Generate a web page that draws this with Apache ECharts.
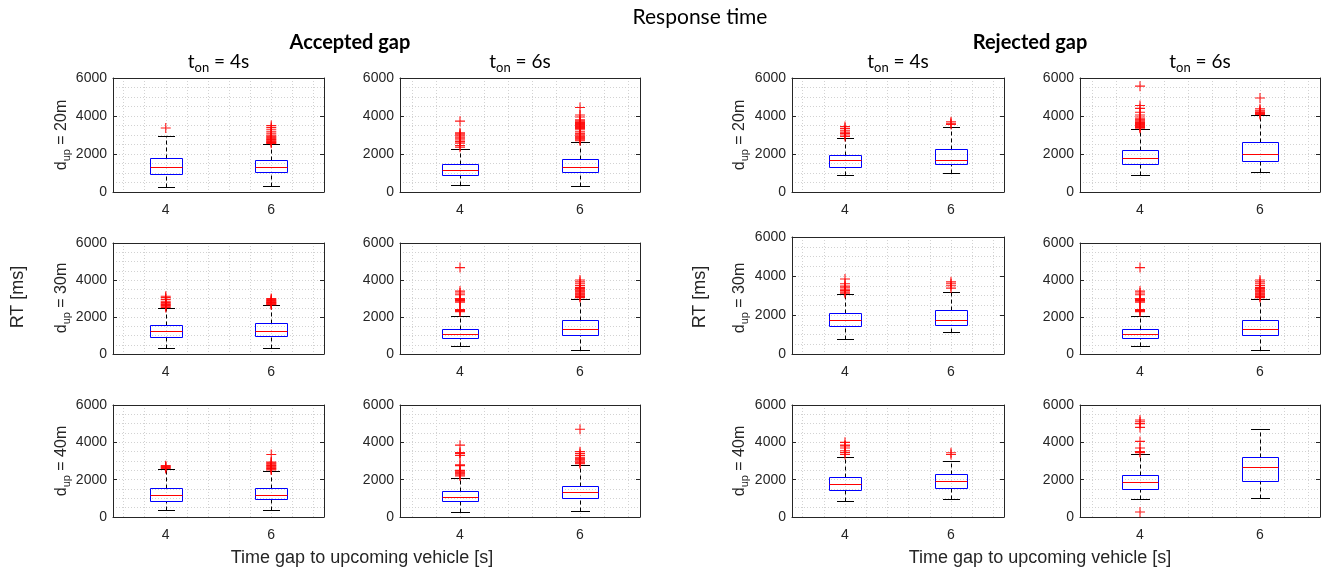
<!DOCTYPE html>
<html><head><meta charset="utf-8">
<script src="https://cdn.jsdelivr.net/npm/echarts@6/dist/echarts.min.js"></script>
<style>html,body{margin:0;padding:0;background:#fff}#c{width:1326px;height:575px}</style>
</head><body><div id="c"></div>
<script>
// ---------- data ----------
const categories = ['4', '6'];           // time gap to upcoming vehicle [s]
const yMin = 0, yMax = 6000, yStep = 2000;
const rowNames = ['20m', '30m', '40m'];   // d_up
const colTitles = ['4s', '6s', '4s', '6s']; // t_on
const groupTitles = ['Accepted gap', 'Rejected gap'];

// box stats per gap: [lower whisker, Q1, median, Q3, upper whisker]
// Accepted, t_on = 4s
const boxA4_20 = [[260, 960, 1310, 1780, 2930], [310, 1050, 1290, 1680, 2510]];
const outA4_20_g4 = [3370];
const outA4_20_g6 = [2560, 2600, 2640, 2680, 2720, 2760, 2800, 2850, 2900, 2950, 3000, 3100, 3200, 3300, 3400, 3500];
const boxA4_30 = [[320, 940, 1240, 1570, 2470], [340, 970, 1240, 1660, 2630]];
const outA4_30_g4 = [2520, 2580, 2620, 2680, 2720, 2780, 2850, 2950, 3050, 3120];
const outA4_30_g6 = [2660, 2690, 2720, 2750, 2780, 2820, 2860, 2900, 2950, 3000];
const boxA4_40 = [[360, 850, 1170, 1550, 2560], [360, 950, 1200, 1550, 2490]];
const outA4_40_g4 = [2600, 2650, 2700, 2750];
const outA4_40_g6 = [2520, 2560, 2600, 2640, 2680, 2720, 2760, 2800, 2850, 2900, 2950, 3350];
// Accepted, t_on = 6s
const boxA6_20 = [[350, 890, 1150, 1470, 2250], [330, 1050, 1310, 1730, 2650]];
const outA6_20_g4 = [2360, 2450, 2570, 2650, 2740, 2800, 2880, 2950, 3000, 3060, 3120, 3730];
const outA6_20_g6 = [2700, 2750, 2800, 2850, 2900, 2950, 3000, 3050, 3100, 3200, 3300, 3350, 3400, 3450, 3500, 3550, 3600, 3650, 3700, 3750, 3800, 3950, 4050, 4450];
const boxA6_30 = [[410, 860, 1080, 1350, 2070], [220, 1030, 1350, 1820, 2990]];
const outA6_30_g4 = [2280, 2320, 2360, 2400, 2800, 2860, 2900, 2950, 3000, 3200, 3300, 3400, 4670];
const outA6_30_g6 = [3050, 3100, 3150, 3200, 3250, 3300, 3350, 3400, 3450, 3500, 3550, 3600, 3700, 3800, 3900, 4000];
const boxA6_40 = [[250, 850, 1080, 1390, 2110], [300, 1020, 1320, 1680, 2760]];
const outA6_40_g4 = [2200, 2250, 2300, 2350, 2400, 2450, 2500, 2750, 2800, 3300, 3400, 3450, 3850];
const outA6_40_g6 = [2850, 2900, 2950, 3000, 3050, 3100, 3150, 3200, 3300, 3400, 3500, 4700];
// Rejected, t_on = 4s
const boxR4_20 = [[890, 1340, 1660, 1970, 2840], [1010, 1450, 1710, 2250, 3440]];
const outR4_20_g4 = [2920, 3000, 3080, 3150, 3250, 3350, 3450];
const outR4_20_g6 = [3560, 3620, 3700];
const boxR4_30 = [[750, 1440, 1760, 2090, 3060], [1130, 1490, 1760, 2240, 3200]];
const outR4_30_g4 = [3120, 3180, 3250, 3320, 3400, 3480, 3600, 3850];
const outR4_30_g6 = [3380, 3500, 3600, 3700];
const boxR4_40 = [[850, 1460, 1750, 2140, 3190], [990, 1550, 1930, 2290, 2990]];
const outR4_40_g4 = [3350, 3450, 3550, 3700, 3800, 3850, 4000];
const outR4_40_g6 = [3350, 3440];
// Rejected, t_on = 6s
const boxR6_20 = [[910, 1450, 1800, 2200, 3320], [1060, 1640, 2020, 2620, 4030]];
const outR6_20_g4 = [3360, 3400, 3450, 3500, 3550, 3600, 3650, 3700, 3750, 3800, 3850, 3950, 4050, 4200, 4400, 4550, 5570];
const outR6_20_g6 = [4080, 4130, 4180, 4250, 4300, 4380, 4950];
const boxR6_30 = [[410, 860, 1080, 1350, 2070], [220, 1030, 1350, 1820, 2990]];
const outR6_30_g4 = [2280, 2320, 2360, 2400, 2800, 2860, 2900, 2950, 3000, 3200, 3300, 3400, 4670];
const outR6_30_g6 = [3050, 3100, 3150, 3200, 3250, 3300, 3350, 3400, 3450, 3500, 3550, 3600, 3700, 3800, 3900, 4000];
const boxR6_40 = [[950, 1500, 1870, 2250, 3370], [1010, 1910, 2680, 3240, 4700]];
const outR6_40_g4 = [270, 3450, 3500, 3700, 4050, 4800, 5000, 5100, 5200];
const outR6_40_g6 = [];

// ---------- layout ----------
const colLeft = [113, 400, 792, 1080];
const colWidth = [211, 240, 212, 240];
const rowTop = [[78, 78, 78, 78], [243, 243, 237, 243], [405, 405, 405, 405]];
const rowBottom = [192, 354, 517];

const panels = [
  [boxA4_20, outA4_20_g4, outA4_20_g6], [boxA6_20, outA6_20_g4, outA6_20_g6], [boxR4_20, outR4_20_g4, outR4_20_g6], [boxR6_20, outR6_20_g4, outR6_20_g6],
  [boxA4_30, outA4_30_g4, outA4_30_g6], [boxA6_30, outA6_30_g4, outA6_30_g6], [boxR4_30, outR4_30_g4, outR4_30_g6], [boxR6_30, outR6_30_g4, outR6_30_g6],
  [boxA4_40, outA4_40_g4, outA4_40_g6], [boxA6_40, outA6_40_g4, outA6_40_g6], [boxR4_40, outR4_40_g4, outR4_40_g6], [boxR6_40, outR6_40_g4, outR6_40_g6]
];

const AX = '#262626';
const GRIDC = '#d2d2d2';
const FONT = '"Liberation Sans", Arial, sans-serif';
const TFONT = 'Lato, "Noto Sans", sans-serif';
const PLUS = 'path://M0,4.45H10V5.55H0Z M4.45,0H5.55V10H4.45Z';

function renderBox(params, api) {
  const xi = api.value(0);
  const lo = api.coord([xi, api.value(1)]);
  const q1 = api.coord([xi, api.value(2)]);
  const md = api.coord([xi, api.value(3)]);
  const q3 = api.coord([xi, api.value(4)]);
  const hi = api.coord([xi, api.value(5)]);
  const band = api.size([1, 0])[0];
  const bw = Math.round(band * 0.3), cw = Math.round(band * 0.16);
  const cx = Math.round(lo[0]) + 0.5;
  const r = v => Math.round(v) + 0.5;
  return {
    type: 'group', children: [
      { type: 'line', shape: { x1: cx, y1: r(q3[1]), x2: cx, y2: r(hi[1]) }, style: { stroke: '#000', lineWidth: 1, lineDash: [4, 3] } },
      { type: 'line', shape: { x1: cx, y1: r(lo[1]), x2: cx, y2: r(q1[1]) }, style: { stroke: '#000', lineWidth: 1, lineDash: [4, 3] } },
      { type: 'line', shape: { x1: cx - cw / 2, y1: r(hi[1]), x2: cx + cw / 2, y2: r(hi[1]) }, style: { stroke: '#000', lineWidth: 1 } },
      { type: 'line', shape: { x1: cx - cw / 2, y1: r(lo[1]), x2: cx + cw / 2, y2: r(lo[1]) }, style: { stroke: '#000', lineWidth: 1 } },
      { type: 'rect', shape: { x: cx - bw / 2, y: r(q3[1]), width: bw, height: Math.round(q1[1]) - Math.round(q3[1]) }, style: { fill: 'none', stroke: '#0000ff', lineWidth: 1 } },
      { type: 'line', shape: { x1: cx - bw / 2, y1: r(md[1]), x2: cx + bw / 2, y2: r(md[1]) }, style: { stroke: '#ff0000', lineWidth: 1 } }
    ]
  };
}

const grids = [], xAxes = [], yAxes = [], series = [];
panels.forEach((p, i) => {
  const row = Math.floor(i / 4), col = i % 4;
  const top = rowTop[row][col];
  grids.push({ left: colLeft[col], top: top, width: colWidth[col], height: rowBottom[row] - top, show: false });
  const xi = xAxes.length, yi = yAxes.length;
  xAxes.push({ gridIndex: i, type: 'category', data: categories, position: 'bottom', boundaryGap: true,
    axisLine: { onZero: false, lineStyle: { color: AX, width: 1 } },
    axisTick: { inside: true, alignWithLabel: true, length: 4, lineStyle: { color: AX } },
    axisLabel: { color: AX, fontSize: 14, fontFamily: FONT, margin: 11 }, splitLine: { show: false } });
  xAxes.push({ gridIndex: i, type: 'category', data: categories, position: 'top', boundaryGap: true,
    axisLine: { onZero: false, lineStyle: { color: AX, width: 1 } },
    axisTick: { inside: true, alignWithLabel: true, length: 4, lineStyle: { color: AX } },
    axisLabel: { show: false }, splitLine: { show: false } });
  xAxes.push({ gridIndex: i, type: 'value', min: 0.5, max: 2.5, splitNumber: 10, position: 'bottom',
    axisLine: { show: false }, axisTick: { show: false }, axisLabel: { show: false },
    splitLine: { show: true, lineStyle: { color: GRIDC, type: [1, 2], width: 1 } } });
  yAxes.push({ gridIndex: i, type: 'value', min: yMin, max: yMax, interval: yStep, position: 'left',
    axisLine: { show: true, onZero: false, lineStyle: { color: AX, width: 1 } },
    axisTick: { show: true, inside: true, length: 4, lineStyle: { color: AX } },
    axisLabel: { color: AX, fontSize: 14, fontFamily: FONT, margin: 6, formatter: v => String(v) },
    splitLine: { show: true, lineStyle: { color: GRIDC, type: [1, 2] } },
    minorTick: { show: false, splitNumber: 4 },
    minorSplitLine: { show: true, lineStyle: { color: GRIDC, type: [1, 2] } } });
  yAxes.push({ gridIndex: i, type: 'value', min: yMin, max: yMax, interval: yStep, position: 'right',
    axisLine: { show: true, onZero: false, lineStyle: { color: AX, width: 1 } },
    axisTick: { show: true, inside: true, length: 4, lineStyle: { color: AX } },
    axisLabel: { show: false }, splitLine: { show: false } });
  const [box, o4, o6] = p;
  series.push({ type: 'custom', xAxisIndex: xi, yAxisIndex: yi, renderItem: renderBox, z: 3,
    encode: { x: 0, y: [1, 2, 3, 4, 5] },
    data: box.map((b, k) => [k].concat(b)) });
  const outs = o4.map(v => [0, v]).concat(o6.map(v => [1, v]));
  series.push({ type: 'scatter', xAxisIndex: xi, yAxisIndex: yi, z: 4, symbol: PLUS, symbolSize: 10,
    itemStyle: { color: '#ff0000', opacity: 0.9 }, data: outs });
});

const graphics = [];
graphics.push({ type: 'text', x: 700, y: 17, style: { text: 'Response time', font: '21px ' + TFONT, fill: '#000', align: 'center', verticalAlign: 'middle' } });
graphics.push({ type: 'text', x: 350, y: 43, style: { text: groupTitles[0], font: 'bold 20px ' + TFONT, fill: '#000', align: 'center', verticalAlign: 'middle' } });
graphics.push({ type: 'text', x: 1030, y: 43, style: { text: groupTitles[1], font: 'bold 20px ' + TFONT, fill: '#000', align: 'center', verticalAlign: 'middle' } });
colTitles.forEach((t, c) => {
  graphics.push({ type: 'text', x: colLeft[c] + colWidth[c] / 2, y: 62,
    style: { text: '{a|t}{b|on}{a| = ' + t + '}', align: 'center', verticalAlign: 'middle',
      rich: { a: { fontSize: 19, fontFamily: TFONT, fill: '#000', lineHeight: 24 },
              b: { fontSize: 13, fontFamily: TFONT, fill: '#000', lineHeight: 12, padding: [12, 0, 0, 0] } } } });
});
const rowMid = [135, 298, 461];
rowNames.forEach((n, r) => {
  [62, 740].forEach(x => {
    graphics.push({ type: 'text', x: x, y: rowMid[r], rotation: Math.PI / 2,
      style: { text: '{a|d}{b|up}{a| = ' + n + '}', align: 'center', verticalAlign: 'middle',
        rich: { a: { fontSize: 16, fontFamily: FONT, fill: AX, lineHeight: 20 },
                b: { fontSize: 11, fontFamily: FONT, fill: AX, lineHeight: 11, padding: [9, 0, 0, 0] } } } });
  });
});
[18, 700].forEach(x => {
  graphics.push({ type: 'text', x: x, y: 297, rotation: Math.PI / 2,
    style: { text: 'RT [ms]', font: '18px ' + FONT, fill: AX, align: 'center', verticalAlign: 'middle' } });
});
[362, 1040].forEach(x => {
  graphics.push({ type: 'text', x: x, y: 558,
    style: { text: 'Time gap to upcoming vehicle [s]', font: '18px ' + FONT, fill: AX, align: 'center', verticalAlign: 'middle' } });
});

const chart = echarts.init(document.getElementById('c'), null, { renderer: 'canvas' });
chart.setOption({
  animation: false,
  backgroundColor: '#fff',
  grid: grids, xAxis: xAxes, yAxis: yAxes, series: series,
  graphic: { elements: graphics }
});
</script></body></html>
